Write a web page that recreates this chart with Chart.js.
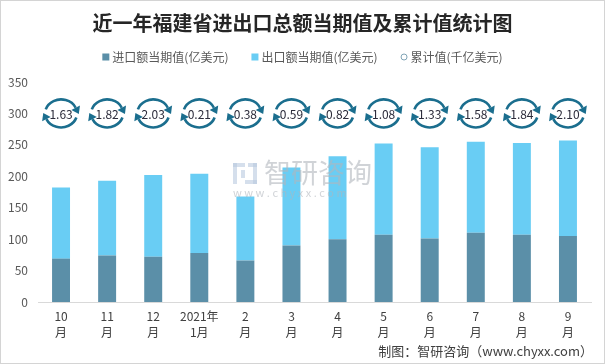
<!DOCTYPE html>
<html lang="zh">
<head>
<meta charset="UTF-8" />
<title>近一年福建省进出口总额当期值及累计值统计图</title>
<script src="https://cdn.jsdelivr.net/npm/chart.js"></script>
<style>
  body { margin: 0; background: #fff; }
  #wrap { width: 605px; height: 364px; box-sizing: border-box; border: 1px solid #d4d4d4; }
  canvas { display: block; }
</style>
</head>
<body>
<div id="wrap"><canvas id="myChart" width="603" height="362"></canvas></div>
<script>
// 数据
const months = [["10", "月"], ["11", "月"], ["12", "月"], ["2021年", "1月"], ["2", "月"], ["3", "月"],
  ["4", "月"], ["5", "月"], ["6", "月"], ["7", "月"], ["8", "月"], ["9", "月"]];
const importVals = [69, 74, 72, 78, 66, 90, 100, 107, 101, 110, 107, 105];
const exportVals = [113, 119, 130, 126, 102, 124, 132, 145, 145, 145, 146, 152];
const cumulative = [1.63, 1.82, 2.03, 0.21, 0.38, 0.59, 0.82, 1.08, 1.33, 1.58, 1.84, 2.10];
const seriesNames = ["进口额当期值(亿美元)", "出口额当期值(亿美元)", "累计值(千亿美元)"];
const yMax = 350;
const yStep = 50;
const ringLevel = 300; // 累计值圆环所在的高度

const FONT = '"Noto Sans CJK SC", "Noto Sans", sans-serif';
const darkBlue = "#5b8fa8";
const lightBlue = "#69cdf4";
const ringColor = "#1b6e8e";

function drawRing(ctx, cx, cy) {
  const rx = 16, ry = 14;
  ctx.save();
  ctx.strokeStyle = ringColor;
  ctx.fillStyle = ringColor;
  ctx.lineWidth = 2.6;
  [[197, 336], [17, 156]].forEach(([a0, a1]) => {
    const t0 = a0 * Math.PI / 180, t1 = a1 * Math.PI / 180;
    ctx.beginPath();
    ctx.ellipse(cx, cy, rx, ry, 0, t0, t1);
    ctx.stroke();
    // 箭头
    const ex = cx + rx * Math.cos(t1), ey = cy + ry * Math.sin(t1);
    let dx = -rx * Math.sin(t1), dy = ry * Math.cos(t1);
    const l = Math.hypot(dx, dy); dx /= l; dy /= l;
    const nx = -dy, ny = dx;
    ctx.beginPath();
    ctx.moveTo(ex + dx * 7, ey + dy * 7);
    ctx.lineTo(ex + nx * 4.8, ey + ny * 4.8);
    ctx.lineTo(ex - nx * 4.8, ey - ny * 4.8);
    ctx.closePath();
    ctx.fill();
  });
  ctx.restore();
}

const decoPlugin = {
  id: "deco",
  afterDatasetsDraw(chart) {
    const ctx = chart.ctx;
    const x = chart.scales.x, y = chart.scales.y;
    const W = chart.width;

    // 标题
    ctx.save();
    ctx.fillStyle = "#262626";
    ctx.font = "bold 20px " + FONT;
    ctx.textAlign = "center";
    ctx.textBaseline = "middle";
    ctx.fillText("近一年福建省进出口总额当期值及累计值统计图", W / 2, 22);

    // 图例
    ctx.font = "12px " + FONT;
    const gap = 23;
    const widths = seriesNames.map(n => ctx.measureText(n).width + 10);
    let lx = W / 2 - (widths.reduce((a, b) => a + b, 0) + gap * 2) / 2;
    const ly = 56;
    ctx.textAlign = "left";
    seriesNames.forEach((n, i) => {
      if (i < 2) {
        ctx.fillStyle = i === 0 ? darkBlue : lightBlue;
        ctx.fillRect(lx, ly - 3.5, 7, 7);
      } else {
        ctx.strokeStyle = "#7fa3b5";
        ctx.lineWidth = 1;
        ctx.beginPath();
        ctx.arc(lx + 3.5, ly, 3, 0, Math.PI * 2);
        ctx.stroke();
      }
      ctx.fillStyle = "#595959";
      ctx.fillText(n, lx + 10, ly);
      lx += widths[i] + gap;
    });

    // 水印
    ctx.globalAlpha = 0.6;
    ctx.fillStyle = "#b0b6bd";
    ctx.font = "27px " + FONT;
    ctx.fillText("智研咨询", 263, 172);
    ctx.font = "11px " + FONT;
    ctx.fillText("w w w . c h y x x . c o m", 232, 192);
    ctx.fillStyle = "#b9c9e0";
    ctx.fillRect(232, 162, 12, 4);
    ctx.fillRect(232, 162, 4, 21);
    ctx.fillRect(240, 169, 4, 8);
    ctx.fillRect(247, 162, 9, 4);
    ctx.fillRect(252, 162, 4, 21);
    ctx.fillRect(244, 179, 12, 4);
    ctx.globalAlpha = 1;

    // 累计值圆环
    const cy = y.getPixelForValue(ringLevel);
    ctx.font = "12px " + FONT;
    ctx.textAlign = "center";
    cumulative.forEach((v, i) => {
      const cx = x.getPixelForValue(i);
      drawRing(ctx, cx, cy);
      ctx.fillStyle = "#2b2b3a";
      ctx.fillText(v.toFixed(2), cx, cy + 1);
    });

    // 来源
    ctx.fillStyle = "#404040";
    ctx.font = "13px " + FONT;
    ctx.textAlign = "right";
    ctx.fillText("制图：智研咨询（www.chyxx.com）", 592, 350);
    ctx.restore();
  }
};

new Chart(document.getElementById("myChart"), {
  type: "bar",
  data: {
    labels: months,
    datasets: [
      { label: seriesNames[0], data: importVals, backgroundColor: darkBlue },
      { label: seriesNames[1], data: exportVals, backgroundColor: lightBlue }
    ]
  },
  options: {
    responsive: false,
    animation: false,
    layout: { padding: { top: 81, right: 13, left: 0, bottom: 0 } },
    datasets: { bar: { barPercentage: 0.39, categoryPercentage: 1 } },
    plugins: { legend: { display: false }, title: { display: false }, tooltip: { enabled: false } },
    scales: {
      x: {
        stacked: true,
        grid: { display: false, drawTicks: false },
        border: { color: "#d9d9d9", width: 1 },
        ticks: { color: "#404040", font: { size: 12, family: FONT, lineHeight: 1.35 }, padding: 6, maxRotation: 0, autoSkip: false },
        afterFit(s) { s.height = 61; }
      },
      y: {
        stacked: true,
        min: 0,
        max: yMax,
        grid: { display: false, drawTicks: false },
        border: { display: false },
        ticks: { stepSize: yStep, color: "#595959", font: { size: 12, family: FONT }, padding: 10 },
        afterFit(s) { s.width = 37; }
      }
    }
  },
  plugins: [decoPlugin]
});
</script>
</body>
</html>
